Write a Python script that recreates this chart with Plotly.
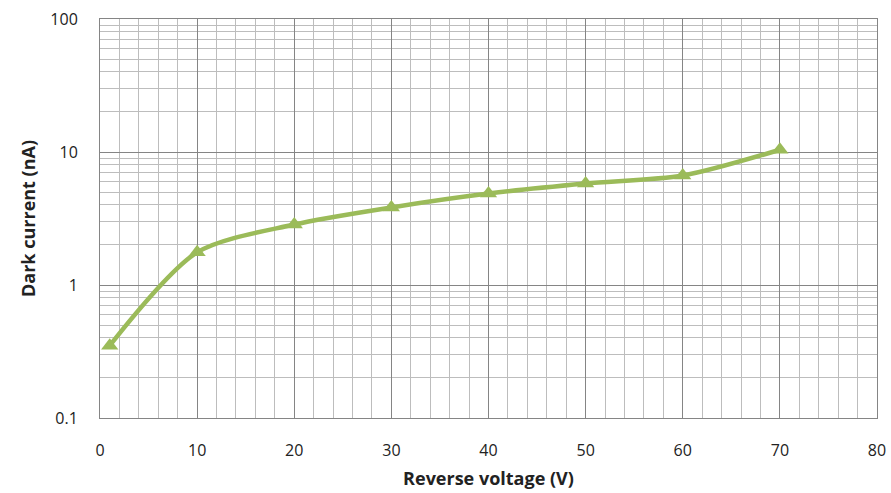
import plotly.graph_objects as go

voltage = [1, 10, 20, 30, 40, 50, 60, 70]
dark_current = [0.35, 1.76, 2.85, 3.83, 4.87, 5.79, 6.65, 10.4]

x_ticks = [0, 10, 20, 30, 40, 50, 60, 70, 80]
y_ticks = [0.1, 1, 10, 100]
y_tick_labels = ["0.1", "1", "10", "100"]

green = "#9BBB59"

fig = go.Figure()
fig.add_trace(go.Scatter(
    x=voltage, y=dark_current, mode="lines+markers",
    line=dict(color=green, width=4.5, shape="spline", smoothing=0.8),
    marker=dict(symbol="triangle-up", size=15, color=green),
    showlegend=False,
))

font = "Open Sans"
fig.update_layout(
    width=891, height=493,
    margin=dict(l=100, r=14, t=19, b=75),
    plot_bgcolor="white", paper_bgcolor="white",
    font=dict(family=font, size=15, color="#222"),
)
fig.update_xaxes(
    range=[0, 80], tickvals=x_ticks, ticks="", ticklen=0,
    showgrid=True, gridcolor="#858585", gridwidth=1,
    minor=dict(dtick=2, showgrid=True, gridcolor="#bdbdbd", gridwidth=1),
    showline=True, linecolor="#858585", mirror=True,
    zeroline=False, automargin=False,
    ticklabeloverflow="allow", ticklabelstandoff=18,
    title=dict(text="<b>Reverse voltage (V)</b>", font=dict(size=18, family=font), standoff=12),
    tickfont=dict(size=16, family=font),
)
fig.update_yaxes(
    type="log", range=[-1, 2], tickvals=y_ticks, ticktext=y_tick_labels,
    showgrid=True, gridcolor="#858585", gridwidth=1,
    minor=dict(dtick="D1", showgrid=True, gridcolor="#bdbdbd", gridwidth=1),
    showline=True, linecolor="#858585", mirror=True,
    zeroline=False, ticks="", automargin=False,
    ticklabeloverflow="allow", ticklabelstandoff=18,
    title=dict(text="<b>Dark current (nA)</b>", font=dict(size=18, family=font), standoff=10),
    tickfont=dict(size=16, family=font),
)

fig.write_html(
    "out.html",
    config={"displayModeBar": False},
    post_script="document.body.style.margin='0';document.body.style.overflow='hidden';",
)
